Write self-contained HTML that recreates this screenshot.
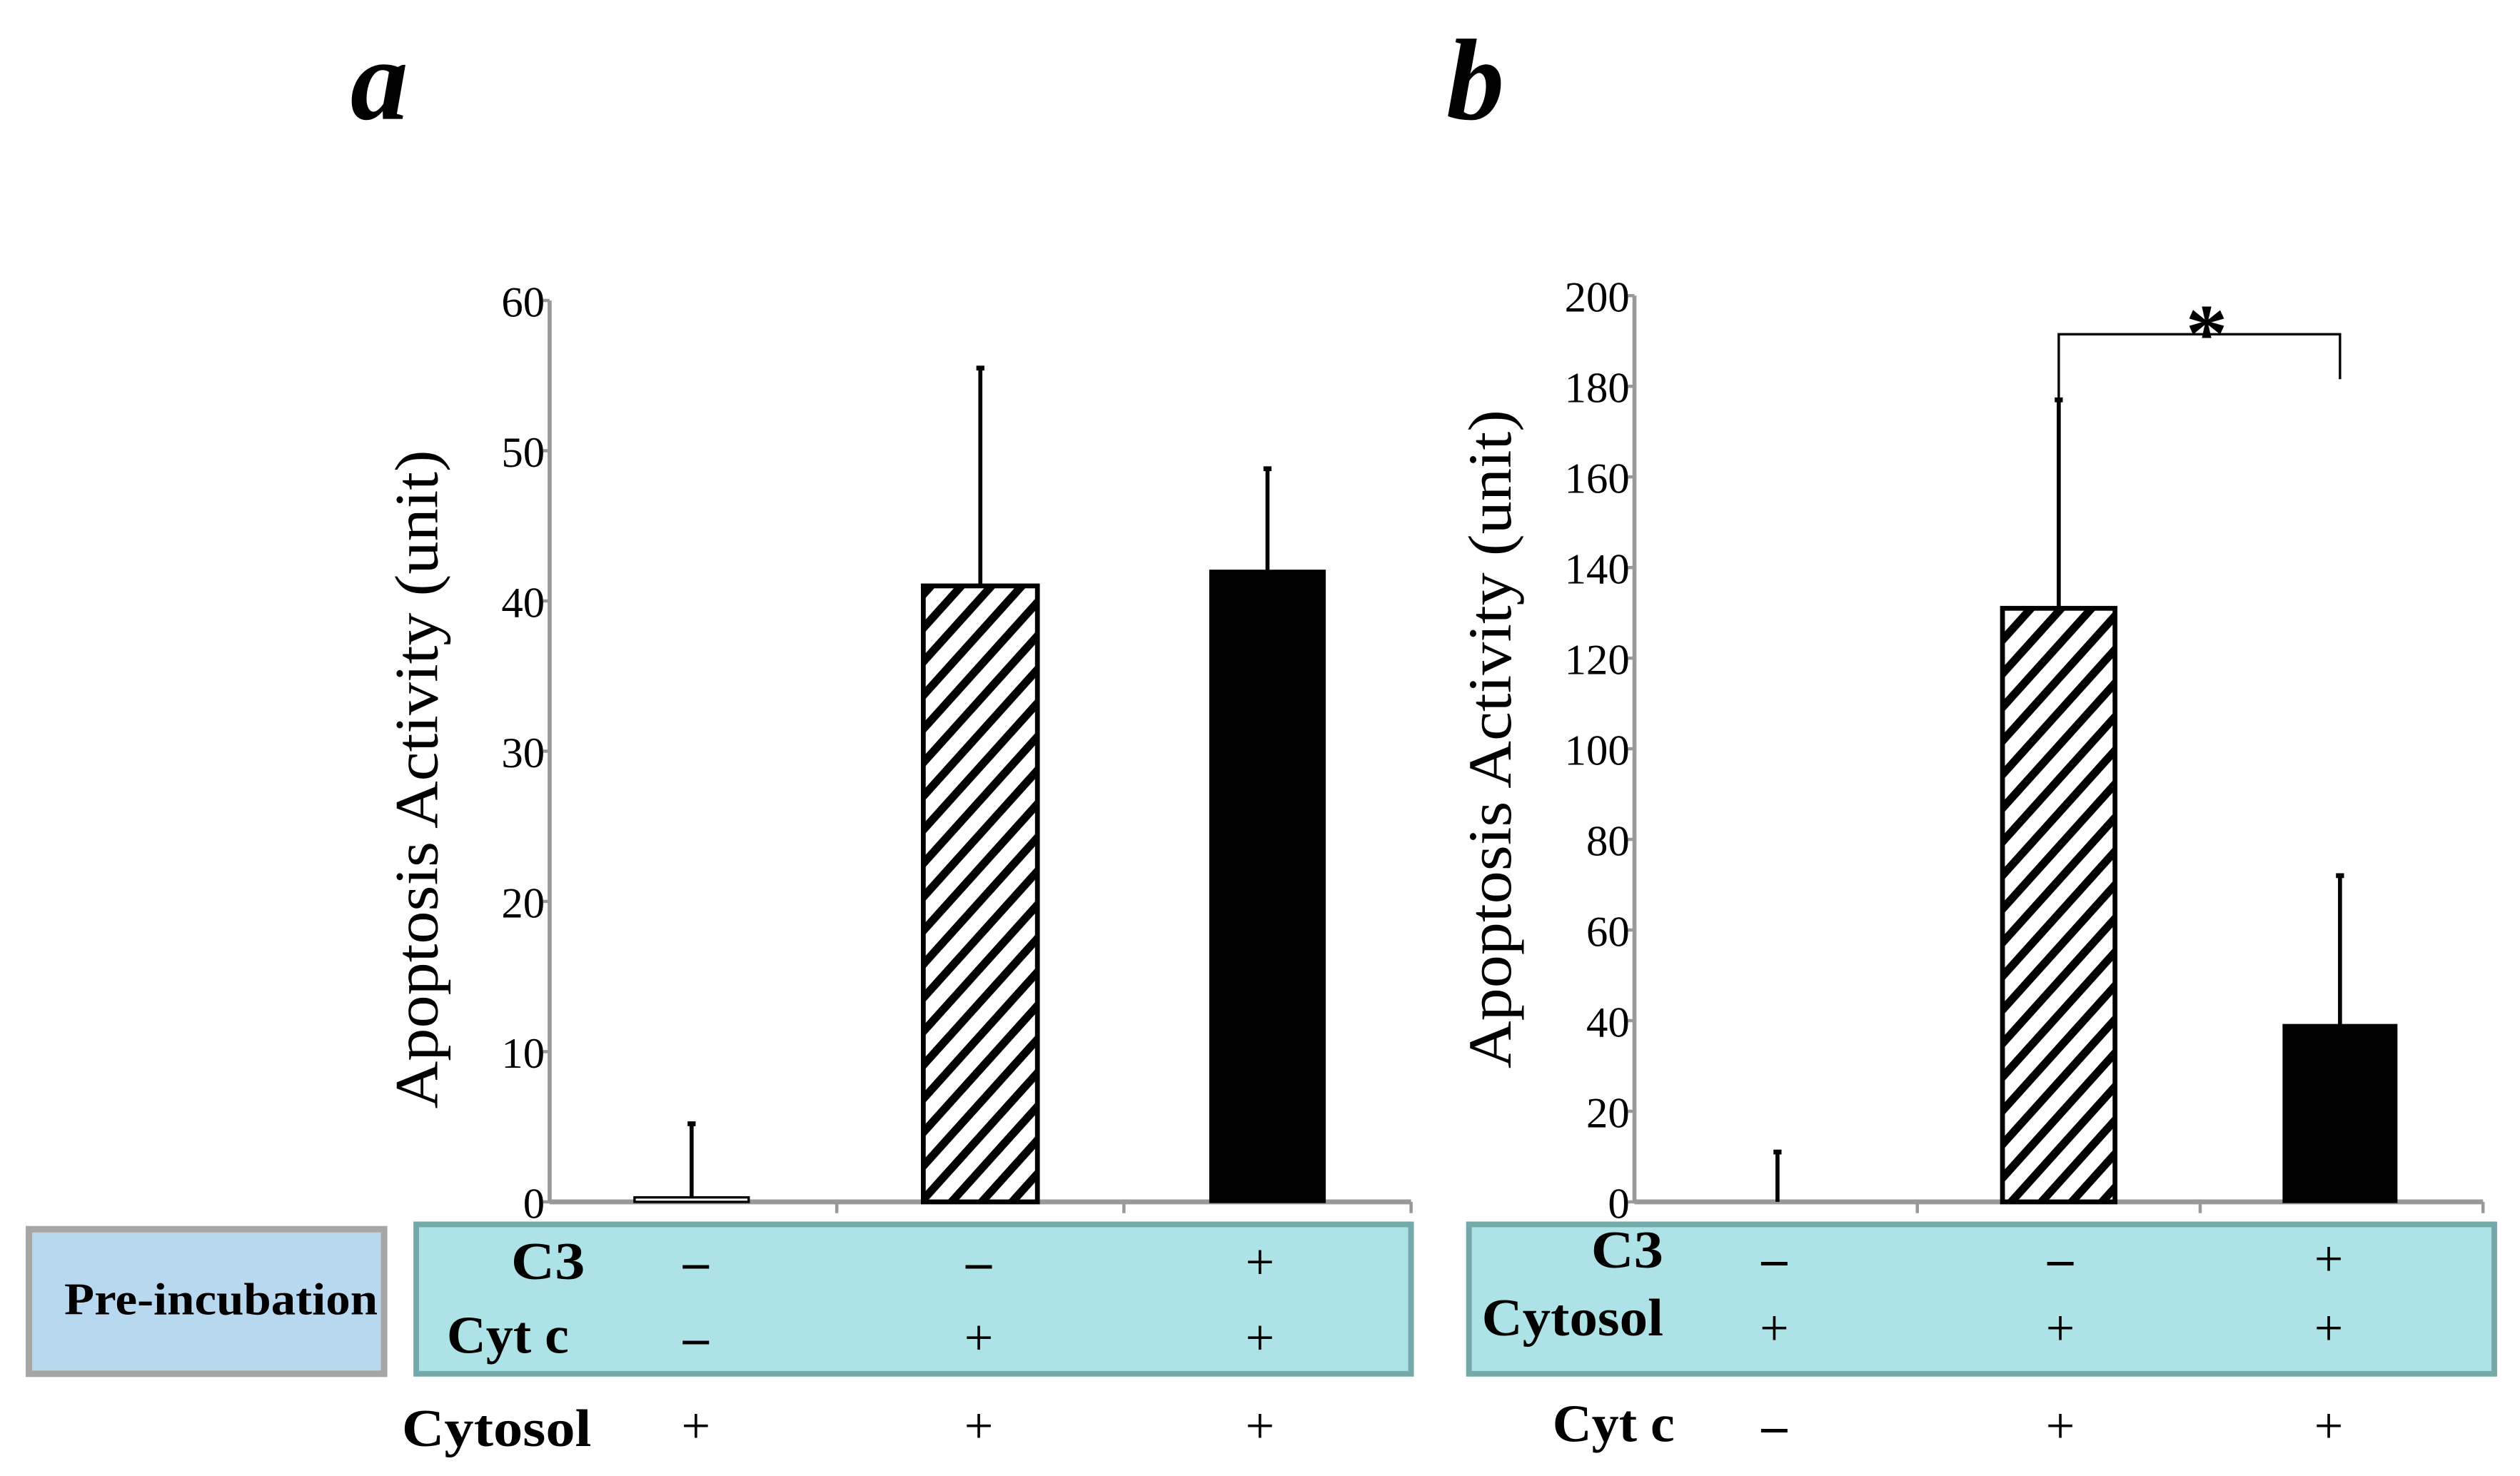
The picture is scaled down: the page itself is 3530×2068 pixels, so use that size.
<!DOCTYPE html>
<html><head><meta charset="utf-8"><style>
html,body{margin:0;padding:0;background:#fff}
svg{display:block}
text{font-family:"Liberation Serif",serif}
</style></head><body>
<svg id="fig" width="3530" height="2068" viewBox="0 0 1568 918.6" preserveAspectRatio="none" xmlns="http://www.w3.org/2000/svg">
<defs>
<pattern id="hatch" patternUnits="userSpaceOnUse" width="14" height="14" patternTransform="rotate(42)">
<rect width="14" height="14" fill="#fff"/>
<rect x="0" y="0" width="5" height="14" fill="#000"/>
</pattern>
</defs>
<text x="218" y="74" font-size="72" font-weight="bold" font-style="italic">a</text>
<text x="900" y="74" font-size="72" font-weight="bold" font-style="italic">b</text>
<g id="ga"></g><g id="gb"></g>
<rect x="18" y="765" width="221" height="90" fill="#b8d8ef" stroke="#a6a6a6" stroke-width="4"/>
<text x="40" y="818" font-size="28" font-weight="bold" textLength="195" lengthAdjust="spacingAndGlyphs">Pre-incubation</text>
<rect x="259" y="762" width="619" height="93" fill="#ade3e6" stroke="#74a9a9" stroke-width="3.5"/>
<rect x="914" y="762" width="638" height="93" fill="#ade3e6" stroke="#74a9a9" stroke-width="3.5"/>
<g font-size="33" font-weight="bold" lengthAdjust="spacingAndGlyphs">
<text x="318" y="796" textLength="46" lengthAdjust="spacingAndGlyphs">C3</text>
<text x="278" y="842" textLength="76" lengthAdjust="spacingAndGlyphs">Cyt c</text>
<text x="250" y="900" textLength="118" lengthAdjust="spacingAndGlyphs">Cytosol</text>
<text x="990" y="789" textLength="45" lengthAdjust="spacingAndGlyphs">C3</text>
<text x="922" y="831" textLength="113" lengthAdjust="spacingAndGlyphs">Cytosol</text>
<text x="966" y="897" textLength="76" lengthAdjust="spacingAndGlyphs">Cyt c</text>
</g>
<g id="signs" font-size="32" text-anchor="middle"></g>
</svg>
<script>
const NS="http://www.w3.org/2000/svg";
function mk(parent,tag,attrs){const e=document.createElementNS(NS,tag);for(const k in attrs)e.setAttribute(k,attrs[k]);parent.appendChild(e);return e;}

// Panel a data
const aTicks=[0,10,20,30,40,50,60];
const aValues=[0.3,41,42];
const aErrors=[5.2,55.5,48.8];
// Panel b data
const bTicks=[0,20,40,60,80,100,120,140,160,180,200];
const bValues=[0,131,39];
const bErrors=[11,177,72];
const fills=['#fff','url(#hatch)','#000'];

function panel(g,id,cfg,ticks,vals,errs){
  const y=v=>cfg.y0-(v-cfg.min)/(cfg.max-cfg.min)*(cfg.y0-cfg.y1);
  const bw=(cfg.x1-cfg.x0)/vals.length;
  const xc=i=>cfg.x0+bw*(i+0.5)+cfg.shift[i];
  let ax=mk(g,'line',{x1:cfg.x0,y1:cfg.y1,x2:cfg.x0,y2:cfg.y0,stroke:'#999',"stroke-width":2.5});
  
  
  ticks.forEach(t=>{
    const l=mk(g,'line',{x1:cfg.x0-4,x2:cfg.x0,y1:y(t),y2:y(t),stroke:'#999',"stroke-width":2});
    
    
    const tx=mk(g,'text',{x:cfg.x0-3,y:y(t)+10,"font-size":27,"text-anchor":"end"});
    tx.textContent=t;
    
    
  });
  let xa=mk(g,'line',{x1:cfg.x0,y1:cfg.y0,x2:cfg.x1,y2:cfg.y0,stroke:'#999',"stroke-width":3});
  
  
  for(let i=1;i<=vals.length;i++){
    const l=mk(g,'line',{x1:cfg.x0+bw*i,x2:cfg.x0+bw*i,y1:cfg.y0,y2:cfg.y0+7,stroke:'#999',"stroke-width":2});
    
    
  }
  vals.forEach((v,i)=>{
    const c=xc(i);
    const e=mk(g,'line',{x1:c,x2:c,y1:y(v),y2:y(errs[i]),stroke:'#000',"stroke-width":2.5});
    
    
    const cap=mk(g,'line',{x1:c-2.5,x2:c+2.5,y1:y(errs[i]),y2:y(errs[i]),stroke:'#000',"stroke-width":3});
    
    
    if(v>0){
      const h=Math.max(y(0)-y(v),1.5);
      const r=mk(g,'rect',{x:c-cfg.barW/2,y:y(0)-h,width:cfg.barW,height:h,fill:fills[i],stroke:'#000',"stroke-width":i==1?3:1.5});
      
      
    }
  });
  const lab=mk(g,'text',{x:0,y:0,"font-size":38,"text-anchor":"middle",textLength:410,lengthAdjust:"spacingAndGlyphs",transform:`translate(${cfg.labX},${cfg.labY}) rotate(-90)`});
  lab.textContent='Apoptosis Activity (unit)';
  
  
  return {y,xc};
}
panel(document.getElementById('ga'),'panel-a',{x0:342,x1:878,y0:748,y1:187,min:0,max:60,barW:71,shift:[-1,0,0],labX:272,labY:485},aTicks,aValues,aErrors);
const pb=panel(document.getElementById('gb'),'panel-b',{x0:1017,x1:1545,y0:748,y1:184,min:0,max:200,barW:70,shift:[1,0,-1],labX:940,labY:460},bTicks,bValues,bErrors);
const gb=document.getElementById('gb');
const br=mk(gb,'polyline',{points:`${pb.xc(1)},${pb.y(180)+12} ${pb.xc(1)},208 ${pb.xc(2)},208 ${pb.xc(2)},236`,fill:'none',stroke:'#000',"stroke-width":1.5});


const st=mk(gb,'text',{x:1373,y:225,"font-size":52,"font-weight":"bold","text-anchor":"middle"});
st.textContent='*';



const signs=document.getElementById('signs');
const rows=[
 {xs:[433,609,784],y:796,s:['–','–','+'],n:'c3-a'},
 {xs:[433,609,784],y:843,s:['–','+','+'],n:'cytc-a'},
 {xs:[433,609,784],y:898,s:['+','+','+'],n:'cytosol-a'},
 {xs:[1104,1282,1449],y:794,s:['–','–','+'],n:'c3-b'},
 {xs:[1104,1282,1449],y:837,s:['+','+','+'],n:'cytosol-b'},
 {xs:[1104,1282,1449],y:898,s:['–','+','+'],n:'cytc-b'}];
rows.forEach(r=>r.s.forEach((s,i)=>{
  const t=mk(signs,'text',{x:r.xs[i],y:r.y,"font-weight":s=='–'?'bold':'normal'});
  t.textContent=s;
  
  
}));
</script>
</body></html>
